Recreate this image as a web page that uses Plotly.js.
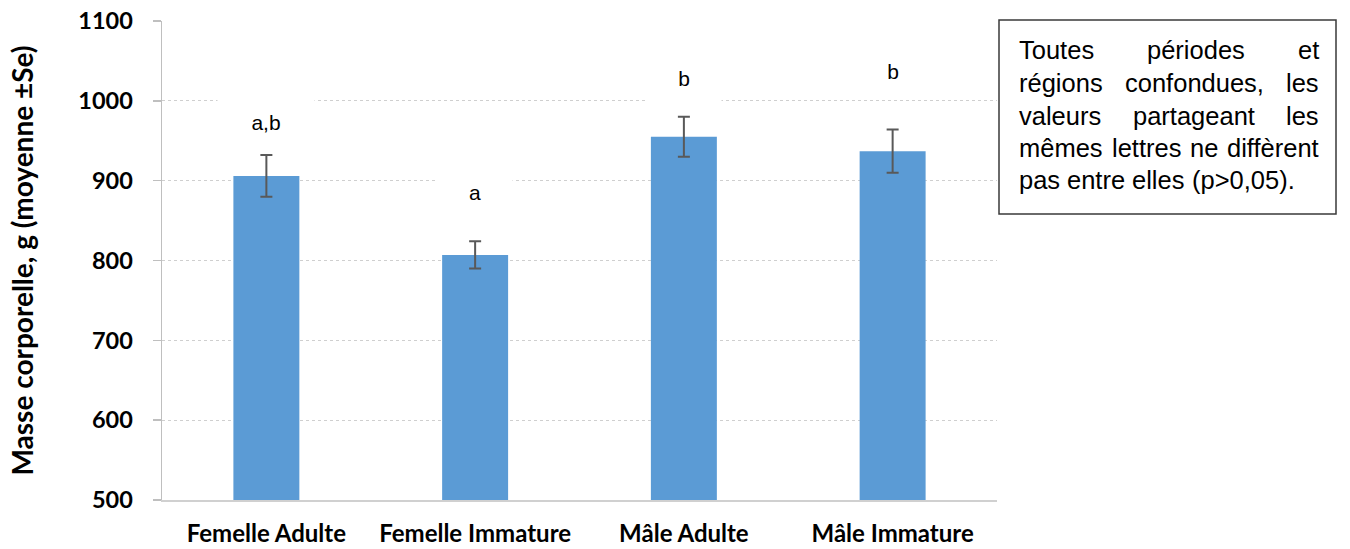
<!DOCTYPE html>
<html>
<head>
<meta charset="utf-8">
<script src="https://cdn.plot.ly/plotly-3.0.1.min.js"></script>
<style>html,body{margin:0;padding:0;background:#fff;}#chart{width:1350px;height:549px;}</style>
</head>
<body>
<div id="chart"></div>
<script>
// ---- data ----
const categories = ['Femelle Adulte', 'Femelle Immature', 'Mâle Adulte', 'Mâle Immature'];
const means = [906, 807, 955, 937];
const stdErr = [26, 17, 25, 27];
const letters = ['a,b', 'a', 'b', 'b'];
const letterY = [973, 886, 1029, 1037];
const yTickVals = [500, 600, 700, 800, 900, 1000, 1100];
const yTitle = 'Masse corporelle, g (moyenne ±Se)';
const noteLines = [
  'Toutes périodes et',
  'régions confondues, les',
  'valeurs partageant les',
  'mêmes lettres ne diffèrent',
  'pas entre elles (p>0,05).'
];

// ---- layout helpers ----
const W = 1350, H = 549;
const M = {l: 162, r: 353, t: 21, b: 49};
const plotW = W - M.l - M.r, plotH = H - M.t - M.b;
const px2x = px => (px - M.l) / plotW;
const py2y = py => (M.t + plotH - py) / plotH;

const noteFont = {family: 'Liberation Sans, Arial, sans-serif', size: 25.5, color: '#000'};
const canvas = document.createElement('canvas');
const ctx = canvas.getContext('2d');
ctx.font = noteFont.size + "px 'Liberation Sans'";

const annotations = [];
// significance letters
categories.forEach((c, i) => {
  annotations.push({
    x: c, y: letterY[i], xref: 'x', yref: 'y', text: letters[i], showarrow: false,
    font: {family: 'Liberation Sans, Arial, sans-serif', size: 21, color: '#000'},
    bgcolor: '#ffffff', width: letters[i].length > 1 ? 94 : 72, height: 48,
    xanchor: 'center', yanchor: 'middle'
  });
});

// justified note box
const boxL = 999, boxR = 1336, boxT = 20, boxB = 214;
const textL = 1019, textR = 1319;
const lineY = [50, 83, 116, 148, 180];
noteLines.forEach((line, li) => {
  const words = line.split(' ');
  const isLast = li === noteLines.length - 1;
  const widths = words.map(w => ctx.measureText(w).width);
  const total = widths.reduce((a, b) => a + b, 0);
  const gap = isLast || words.length < 2 ? ctx.measureText(' ').width : (textR - textL - total) / (words.length - 1);
  let x = textL;
  words.forEach((w, wi) => {
    annotations.push({
      x: px2x(x), y: py2y(lineY[li]), xref: 'paper', yref: 'paper', text: w, showarrow: false,
      xanchor: 'left', yanchor: 'middle', font: noteFont, borderpad: 0, borderwidth: 0
    });
    x += widths[wi] + gap;
  });
});

const data = [{
  type: 'bar',
  x: categories,
  y: means,
  width: 0.316,
  marker: {color: '#5b9bd5'},
  error_y: {type: 'data', array: stdErr, visible: true, color: '#595959', thickness: 2, width: 6},
  hoverinfo: 'x+y'
}];

const layout = {
  width: W, height: H,
  margin: M,
  paper_bgcolor: '#fff', plot_bgcolor: '#fff',
  showlegend: false,
  xaxis: {
    type: 'category',
    showline: true, linecolor: '#d0d0d0', linewidth: 1.5,
    ticks: '', showgrid: false,
    tickfont: {family: 'Lato, Calibri, sans-serif', size: 24, weight: 700, color: '#000'},
    ticklabelstandoff: 12
  },
  yaxis: {
    range: [500, 1100], tickvals: yTickVals, ticktext: yTickVals.map(String),
    showline: true, linecolor: '#bfbfbf', linewidth: 1.5,
    ticks: 'outside', ticklen: 8, tickcolor: '#bfbfbf', tickwidth: 1.5,
    showgrid: true, gridcolor: '#cfcfcf', griddash: 'dot', gridwidth: 1,
    zeroline: false,
    tickfont: {family: 'Lato, Calibri, sans-serif', size: 23.5, weight: 700, color: '#000'},
    ticklabelstandoff: 15,
    title: {text: yTitle, font: {family: 'Lato, Calibri, sans-serif', size: 28, weight: 700, color: '#000'}, standoff: 36}
  },
  shapes: [{
    type: 'rect', xref: 'paper', yref: 'paper',
    x0: px2x(boxL), x1: px2x(boxR), y0: py2y(boxB), y1: py2y(boxT),
    line: {color: '#3a3a3a', width: 1.5}, fillcolor: 'rgba(0,0,0,0)', layer: 'above'
  }],
  annotations: annotations
};

Plotly.newPlot('chart', data, layout, {displayModeBar: false, staticPlot: true});
</script>
</body>
</html>
